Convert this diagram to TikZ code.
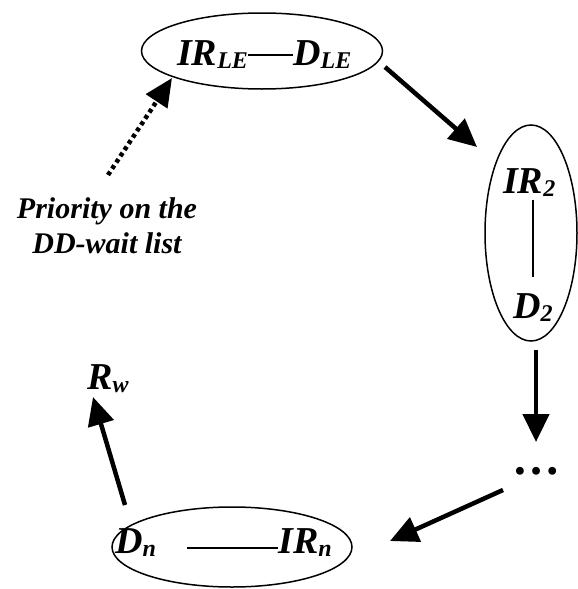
\documentclass[tikz,border=0pt]{standalone}
\usepackage{fontspec}
\setmainfont{Liberation Serif}
\usetikzlibrary{shapes.geometric,arrows.meta}
\newcommand\sbs[1]{\raisebox{-3.5pt}{\fontsize{24}{24}\selectfont #1}}
\begin{document}
\begin{tikzpicture}[x=1pt,y=-1pt,
  lbl/.style={font=\bfseries\itshape\fontsize{38}{40}\selectfont, inner sep=0pt},
  note/.style={font=\bfseries\itshape\fontsize{30}{35}\selectfont, inner sep=0pt, align=center},
  grp/.style={draw, ellipse, line width=1.5pt, inner sep=0pt},
  flow/.style={line width=4.5pt, -{Triangle[length=28pt,width=26pt]}},
  hint/.style={line width=4.5pt, dash pattern=on 4pt off 3.5pt, -{Triangle[length=28pt,width=25pt]}},
  link/.style={line width=1.2pt},
]
\useasboundingbox (0,0) rectangle (578,589);
% ellipses
\node[grp, minimum width=241pt, minimum height=76pt] (top) at (262,51) {};
\node[grp, minimum width=92pt, minimum height=216pt] (right) at (531,233) {};
\node[grp, minimum width=240pt, minimum height=80pt] (bot) at (232,547) {};
% texts in the top ellipse
\node[lbl, anchor=base west] (irle) at (177,65) {IR\sbs{LE}};
\node[lbl, anchor=base west] (dle) at (293,65) {D\sbs{LE}};
\draw[link] ([yshift=10pt]irle.base east) -- ([yshift=10pt]dle.base west);
% texts in the right ellipse
\node[lbl, anchor=base west] (ir2) at (503,193) {IR\sbs{2}};
\node[lbl, anchor=base west] (d2) at (513,318) {D\sbs{2}};
\coordinate (v1) at (533,200);
\draw[link, shorten <=3pt, shorten >=16pt] (ir2.south -| v1) -- (d2.north -| v1);
% texts in the bottom ellipse
\node[lbl, anchor=base west] (dn) at (115,553) {D\sbs{n}};
\node[lbl, anchor=base east] (irn) at (332,553) {IR\sbs{n}};
\draw[link, shorten <=31pt] ([yshift=5pt]dn.base east) -- ([yshift=5pt]irn.base west);
% other labels
\node[lbl, anchor=base west] (rw) at (87,389) {R\sbs{w}};
\node[font=\bfseries\fontsize{48}{48}\selectfont, inner sep=0pt, anchor=base] (dots) at (536,474) {…};
\node[note, anchor=north] (prio) at (107,197) {Priority on the\\DD-wait list};
% connector end points
\coordinate (a1s) at (385,67);
\coordinate (a1e) at (477,147);
\coordinate (a2s) at (536,350);
\coordinate (a2e) at (536,442);
\coordinate (a3s) at (503,490);
\coordinate (a3e) at (390,541);
\coordinate (a4s) at (125,505);
\coordinate (a4e) at (93,397);
\coordinate (a5s) at (108,175);
\coordinate (a5e) at (172,78);
\draw[flow] (a1s) -- (a1e);
\draw[flow] (a2s) -- (a2e);
\draw[flow] (a3s) -- (a3e);
\draw[flow] (a4s) -- (a4e);
\draw[hint] (a5s) -- (a5e);
\end{tikzpicture}
\end{document}
